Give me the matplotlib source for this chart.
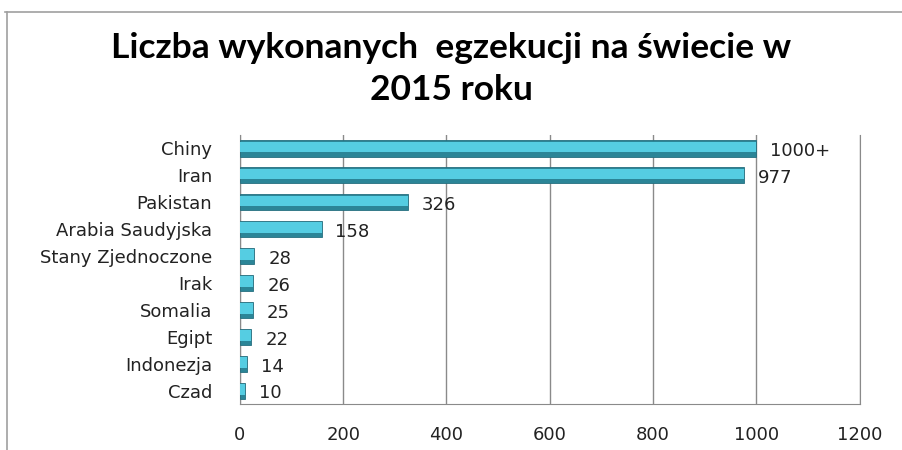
import matplotlib
matplotlib.use("Agg")
import matplotlib.pyplot as plt
from matplotlib.lines import Line2D

# Dane z wykresu
countries = ["Chiny", "Iran", "Pakistan", "Arabia Saudyjska", "Stany Zjednoczone",
             "Irak", "Somalia", "Egipt", "Indonezja", "Czad"]
executions = [1000, 977, 326, 158, 28, 26, 25, 22, 14, 10]
value_labels = ["1000+", "977", "326", "158", "28", "26", "25", "22", "14", "10"]
x_ticks = [0, 200, 400, 600, 800, 1000, 1200]

fig = plt.figure(figsize=(9.02, 4.5), dpi=100)
ax = fig.add_axes([0.266, 0.102, 0.687, 0.598])

y = list(range(len(countries)))
# słupek w dwóch warstwach (efekt walca jak w Excelu)
ax.barh(y, executions, height=0.6, color="#2b8597", edgecolor="#256f7f", linewidth=0.6, zorder=3)
ax.barh([v - 0.05 for v in y], executions, height=0.4, color="#55cde2", linewidth=0, zorder=4)

for yi, val, lab in zip(y, executions, value_labels):
    ax.annotate(lab, (val, yi), xytext=(10, -2), textcoords="offset points",
                va="center", ha="left", fontsize=13, color="#222222",
                family="DejaVu Sans", zorder=6)

ax.set_xlim(0, 1200)
ax.set_ylim(len(countries) - 0.5, -0.5)
ax.set_xticks(x_ticks)
ax.set_yticks(y)
ax.set_yticklabels(countries)
ax.tick_params(axis="both", length=0, labelsize=13, colors="#222222")
ax.tick_params(axis="x", pad=16)
ax.tick_params(axis="y", pad=20)
ax.grid(axis="x", color="#8a8a8a", linewidth=1, zorder=0)
ax.spines["top"].set_visible(False)
for s in ["left", "bottom", "right"]:
    ax.spines[s].set_color("#8a8a8a")

fig.text(0.5, 0.893, "Liczba wykonanych  egzekucji na świecie w",
         ha="center", va="center", fontsize=25.5, fontweight="bold", family="Lato")
fig.text(0.5, 0.8, "2015 roku",
         ha="center", va="center", fontsize=25.5, fontweight="bold", family="Lato")

# ramka obszaru wykresu
fig.add_artist(Line2D([5 / 902, 1], [1 - 12 / 450, 1 - 12 / 450], color="#a0a0a0", linewidth=1.2))
fig.add_artist(Line2D([7 / 902, 7 / 902], [0, 1 - 12 / 450], color="#a0a0a0", linewidth=1.2))

fig.savefig("out.png", dpi=100)
